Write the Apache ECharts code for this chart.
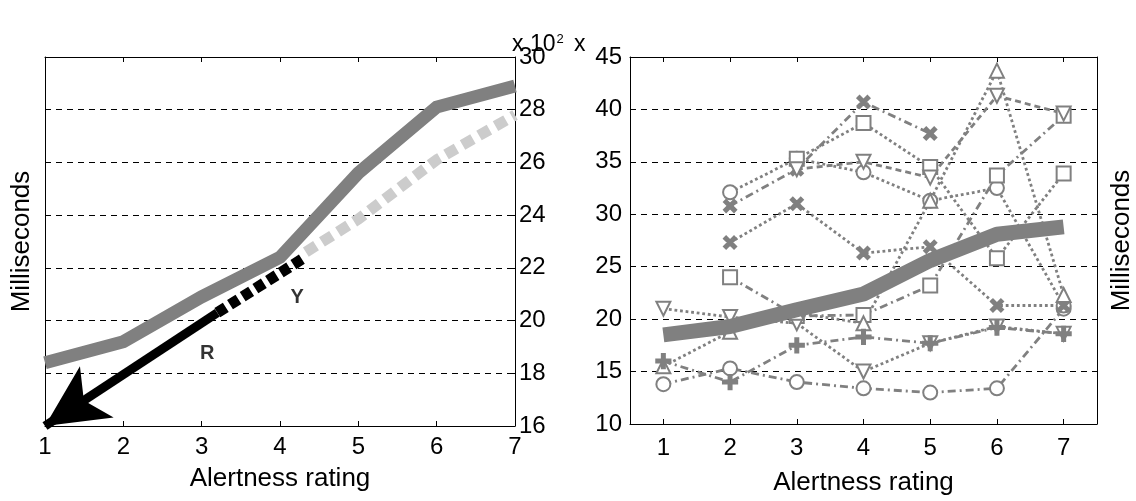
<!DOCTYPE html>
<html><head><meta charset="utf-8">
<script src="https://cdn.jsdelivr.net/npm/echarts@6/dist/echarts.min.js"></script>
<style>html,body{margin:0;padding:0;background:#fff}#c{width:1136px;height:501px}</style>
</head><body><div id="c"></div>
<script>
// ---- data ----
const ratings = [1, 2, 3, 4, 5, 6, 7];
const ratingLabels = ['1', '2', '3', '4', '5', '6', '7'];
const leftTicks = [16, 18, 20, 22, 24, 26, 28, 30];
const rightTicks = [10, 15, 20, 25, 30, 35, 40, 45];
const meanRT = [18.4, 19.2, 20.9, 22.4, 25.6, 28.1, 28.9];
const lightX = [4.33, 5, 6, 7];
const lightY = [22.6, 23.85, 26.1, 27.8];
const yX = [3.2, 4.28];
const yY = [20.3, 22.33];
const arrowFrom = [3.2, 20.3];
const arrowTo = [1, 16];
const labelR = [3.07, 18.77];
const labelY = [4.22, 20.86];
const circLow  = [13.8, 15.3, 14.0, 13.4, 13.0, 13.4, 21.0];
const circHigh = [null, 32.1, 35.3, 34.0, 31.3, 32.5, 21.3];
const xHigh    = [null, 30.8, 34.3, 40.7, 37.7, null, null];
const xMid     = [null, 27.3, 31.0, 26.3, 26.9, 21.3, 21.3];
const sqA      = [null, 24.0, 20.3, 20.4, 23.2, 33.7, 39.4];
const sqB      = [null, null, 35.3, 38.7, 34.5, 25.8, 33.9];
const tdA      = [21.0, 20.2, 19.6, 15.0, 17.7, 19.3, 18.6];
const tdB      = [null, null, 34.3, 35.0, 33.5, 41.3, 39.6];
const tuA      = [15.5, 18.8, 20.6, 19.6, 31.3, 43.7, 22.3];
const plusA    = [16.0, 14.0, 17.5, 18.3, 17.7, 19.2, 18.6];
const meanRight = [18.5, 19.3, 20.9, 22.4, 25.6, 28.1, 28.8];

// ---- styling ----
const FONT = '"Liberation Sans", Arial, sans-serif';
const GRAY = '#808080';
const DOT = 'dotted';
const DASHDOT = [8, 4, 2, 4];
const PLUS = 'path://M4,0H6V4H10V6H6V10H4V6H0V4H4Z';

function pairs(xs, ys) { return xs.map((x, i) => [x, ys[i]]); }

const chart = echarts.init(document.getElementById('c'), null, {renderer: 'canvas'});

const axisLineBlack = {show: true, onZero: false, lineStyle: {color: '#000', width: 1}};
const tickIn = {show: true, inside: true, length: 5, lineStyle: {color: '#000'}};
const lbl = {color: '#000', fontFamily: FONT, fontSize: 24};
const nameStyle = {color: '#000', fontFamily: FONT, fontSize: 26};
const gridDash = {show: true, lineStyle: {color: '#000', type: [6, 5], width: 1}};

function subj(name, data, symbol, rot, type) {
  return {
    name, type: 'line', xAxisIndex: 2, yAxisIndex: 2, data,
    symbol, symbolRotate: rot, symbolSize: 14, showSymbol: true, connectNulls: false,
    lineStyle: {color: GRAY, width: 2.8, type},
    itemStyle: {color: GRAY, borderColor: GRAY, borderWidth: 2.2},
    z: 3, silent: true
  };
}

const option = {
  animation: false,
  backgroundColor: '#fff',
  grid: [
    {left: 45, top: 57, width: 470, height: 369},
    {left: 630, top: 57, width: 469, height: 369}
  ],
  xAxis: [
    {gridIndex: 0, type: 'value', min: 1, max: 7, interval: 1, position: 'bottom',
     axisLine: axisLineBlack, axisTick: tickIn, splitLine: {show: false},
     axisLabel: Object.assign({margin: 9, showMinLabel: true, showMaxLabel: true}, lbl),
     name: 'Alertness rating', nameLocation: 'middle', nameGap: 40, nameTextStyle: nameStyle},
    {gridIndex: 0, type: 'value', min: 1, max: 7, interval: 1, position: 'top',
     axisLine: axisLineBlack, axisTick: tickIn, splitLine: {show: false}, axisLabel: {show: false}},
    {gridIndex: 1, type: 'category', data: ratingLabels, boundaryGap: true, position: 'bottom',
     axisLine: axisLineBlack, axisTick: Object.assign({alignWithLabel: true}, tickIn), splitLine: {show: false},
     axisLabel: Object.assign({margin: 12}, lbl),
     name: 'Alertness rating', nameLocation: 'middle', nameGap: 46, nameTextStyle: nameStyle},
    {gridIndex: 1, type: 'category', data: ratingLabels, boundaryGap: true, position: 'top',
     axisLine: axisLineBlack, axisTick: Object.assign({alignWithLabel: true}, tickIn), splitLine: {show: false}, axisLabel: {show: false}}
  ],
  yAxis: [
    {gridIndex: 0, type: 'value', min: leftTicks[0], max: leftTicks[leftTicks.length - 1], interval: 2, position: 'right',
     axisLine: axisLineBlack, axisTick: tickIn, splitLine: gridDash,
     axisLabel: Object.assign({margin: 4, showMinLabel: true, showMaxLabel: true}, lbl)},
    {gridIndex: 0, type: 'value', min: leftTicks[0], max: leftTicks[leftTicks.length - 1], interval: 2, position: 'left',
     axisLine: axisLineBlack, axisTick: tickIn, splitLine: {show: false}, axisLabel: {show: false},
     name: 'Milliseconds', nameLocation: 'middle', nameGap: 10, nameTextStyle: nameStyle},
    {gridIndex: 1, type: 'value', min: rightTicks[0], max: rightTicks[rightTicks.length - 1], interval: 5, position: 'left',
     axisLine: axisLineBlack, axisTick: tickIn, splitLine: gridDash,
     axisLabel: Object.assign({margin: 8, showMinLabel: true, showMaxLabel: true}, lbl)},
    {gridIndex: 1, type: 'value', min: rightTicks[0], max: rightTicks[rightTicks.length - 1], interval: 5, position: 'right',
     axisLine: axisLineBlack, axisTick: tickIn, splitLine: {show: false}, axisLabel: {show: false},
     name: 'Milliseconds', nameLocation: 'middle', nameGap: 12, nameTextStyle: nameStyle}
  ],
  graphic: [
    {type: 'text', left: 512, top: 33, silent: true,
     style: {text: 'x 10{s|2} x', fontFamily: FONT, fontSize: 23, fill: '#000',
             rich: {s: {fontSize: 13, fontFamily: FONT, fill: '#000', verticalAlign: 'top', padding: [0, 4, 10, 1]}}}}
  ],
  series: [
    {name: 'Mean', type: 'line', xAxisIndex: 0, yAxisIndex: 0, data: pairs(ratings, meanRT),
     symbol: 'none', lineStyle: {color: GRAY, width: 13, cap: 'butt', join: 'miter'}, z: 3, silent: true},
    {name: 'Y-light', type: 'line', xAxisIndex: 0, yAxisIndex: 0, data: pairs(lightX, lightY),
     symbol: 'none', lineStyle: {color: '#cccccc', width: 11, type: [12, 7]}, z: 3, silent: true},
    {name: 'Y', type: 'line', xAxisIndex: 0, yAxisIndex: 0, data: pairs(yX, yY),
     symbol: 'none', lineStyle: {color: '#000', width: 11, type: [10, 5]}, z: 4, silent: true,
     markLine: {silent: true, symbol: ['none', 'arrow'], symbolSize: [46, 62], precision: 4,
       label: {show: false}, lineStyle: {color: '#000', width: 9, type: 'solid'},
       data: [[{coord: arrowFrom}, {coord: arrowTo}]]}},
    {name: 'labels', type: 'scatter', xAxisIndex: 0, yAxisIndex: 0, symbolSize: 0, silent: true, z: 6,
     data: [{value: labelR, name: 'R'}, {value: labelY, name: 'Y'}],
     label: {show: true, position: 'inside', formatter: p => p.name, fontFamily: FONT, fontWeight: 'bold', fontSize: 20, color: '#000'}},

    subj('circLow', circLow, 'emptyCircle', 0, DASHDOT),
    subj('circHigh', circHigh, 'emptyCircle', 0, DOT),
    subj('xHigh', xHigh, PLUS, 45, DASHDOT),
    subj('xMid', xMid, PLUS, 45, DOT),
    subj('sqA', sqA, 'emptyRect', 0, DASHDOT),
    subj('sqB', sqB, 'emptyRect', 0, DOT),
    subj('tdA', tdA, 'emptyTriangle', 180, DOT),
    subj('tdB', tdB, 'emptyTriangle', 180, [6, 4]),
    subj('tuA', tuA, 'emptyTriangle', 0, DOT),
    subj('plusA', plusA, PLUS, 0, DASHDOT),
    {name: 'MeanR', type: 'line', xAxisIndex: 2, yAxisIndex: 2, data: meanRight,
     symbol: 'none', lineStyle: {color: GRAY, width: 15, cap: 'butt'}, z: 5, silent: true}
  ]
};
chart.setOption(option);
</script></body></html>
